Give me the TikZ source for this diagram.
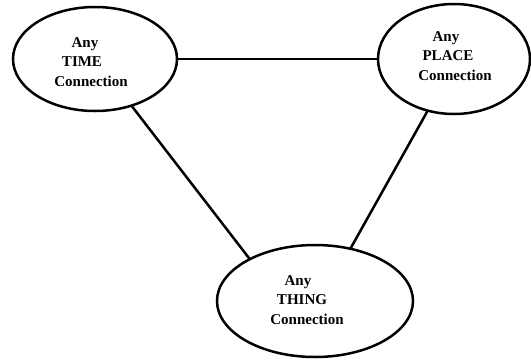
\documentclass[tikz,border=0pt]{standalone}
\usepackage{fontspec}
\setmainfont{Liberation Serif}
\usetikzlibrary{shapes.geometric}
\begin{document}
\begin{tikzpicture}[x=1pt,y=-1pt,
  bubble/.style={ellipse,draw=black,line width=2.5pt,inner sep=0pt},
  lbl/.style={align=center,font=\fontsize{15}{19.5}\selectfont\bfseries,inner sep=0pt},
  link/.style={line width=2.5pt,line cap=round}]
\useasboundingbox (0,0) rectangle (531,360);
\node[bubble,minimum width=164pt,minimum height=104pt] (time) at (95,59) {};
\node[bubble,minimum width=152pt,minimum height=110pt] (place) at (454,59) {};
\node[bubble,minimum width=196pt,minimum height=112pt] (thing) at (315,301) {};
\node[lbl] (timetxt) at (86,62) {\hspace*{-2pt}Any\\\hspace*{-8pt}TIME\\\hspace*{10pt}Connection};
\node[lbl] (placetxt) at (450,56) {\hspace*{-8pt}Any\\\hspace*{-4pt}PLACE\\\hspace*{10pt}Connection};
\node[lbl] (thingtxt) at (302,300) {\hspace*{-8pt}Any\\THING\\\hspace*{10pt}Connection};
\draw[link] (time.east) -- (place.west);
\draw[link] (time.-52) -- (thing.147);
\draw[link] (place.-117) -- (thing.56);
\end{tikzpicture}
\end{document}
